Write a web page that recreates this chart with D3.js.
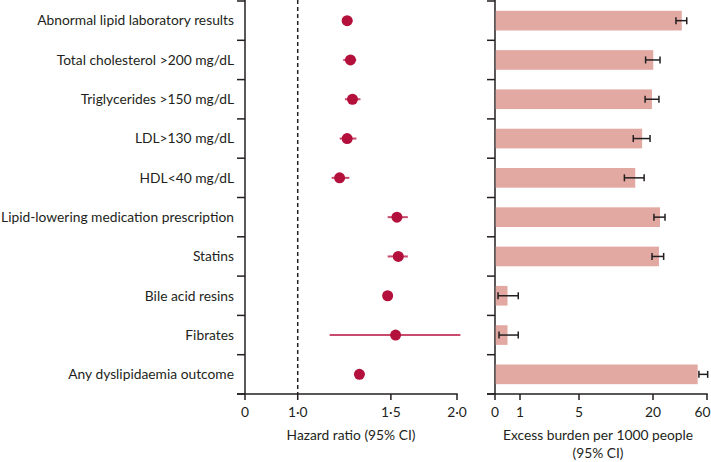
<!DOCTYPE html>
<html>
<head>
<meta charset="utf-8">
<script src="https://cdn.jsdelivr.net/npm/d3@7"></script>
<style>
  html, body { margin: 0; padding: 0; background: #fff; }
  svg text { font-family: Lato, "Open Sans", sans-serif; fill: #231f20; }
</style>
</head>
<body>
<svg id="chart" width="711" height="462"></svg>
<script>
// ---- data ----
const categories = [
  "Abnormal lipid laboratory results",
  "Total cholesterol >200 mg/dL",
  "Triglycerides >150 mg/dL",
  "LDL>130 mg/dL",
  "HDL<40 mg/dL",
  "Lipid-lowering medication prescription",
  "Statins",
  "Bile acid resins",
  "Fibrates",
  "Any dyslipidaemia outcome"
];
const hazardRatio = [1.24, 1.258, 1.269, 1.24, 1.20, 1.54, 1.549, 1.479, 1.531, 1.308];
const hrLower     = [1.214, 1.219, 1.228, 1.20, 1.159, 1.479, 1.479, 1.465, 1.149, 1.295];
const hrUpper     = [1.27, 1.29, 1.314, 1.291, 1.252, 1.615, 1.615, 1.495, 2.03, 1.322];
const burden      = [41.3, 20.2, 19.8, 17.8, 16.4, 25.2, 24.4, 0.5, 0.5, 53.1];
const burdenLower = [37.0, 18.5, 18.4, 16.0, 14.2, 20.7, 19.8, 0.12, 0.16, 54.0];
const burdenUpper = [45.0, 25.2, 24.4, 19.4, 18.2, 28.9, 27.9, 0.93, 0.93, 60.5];
const hrTicks = [0, 1.0, 1.5, 2.0];
const hrTickLabels = ["0", "1·0", "1·5", "2·0"];
const burdenTicks = [0, 1, 5, 20, 60];
const burdenTickLabels = ["0", "1", "5", "20", "60"];

// ---- layout ----
const svg = d3.select("#chart");
const W = 711;
const yTop = 1, yBottom = 394;
const leftX0 = 245, leftX1 = 457;
const rightX0 = 495, rightX1 = 707;
const dotColor = "#b3103c";
const ciColor = "#c84a6c";
const barColor = "#e2a8a2";
const ink = "#231f20";
const fs = 13.8;

const y = d3.scaleBand().domain(categories).range([yTop, yBottom]).padding(0);
const yc = d => y(d) + y.bandwidth() / 2;

// Hazard ratio: log scale with a break at the origin
const hrMin = 0.795;
const xHR = d3.scaleLog().domain([hrMin, 2.0]).range([leftX0, leftX1]);
const xHRpos = v => xHR(v === 0 ? hrMin : v);

// Excess burden: piecewise scale
const xB = d3.scaleLinear().domain(burdenTicks).range([rightX0, 520, 579, 653, rightX1]);

function drawFrame(x0, x1, ticks, labels, pos) {
  const g = svg.append("g");
  g.append("line").attr("x1", x0).attr("x2", x0).attr("y1", yTop - 1).attr("y2", yBottom)
    .attr("stroke", ink).attr("stroke-width", 1.5);
  const bounds = categories.map(c => y(c)).concat([yBottom]);
  g.selectAll(".bt").data(bounds).enter().append("line")
    .attr("x1", x0 - 8).attr("x2", x0).attr("y1", d => d).attr("y2", d => d)
    .attr("stroke", ink).attr("stroke-width", 1.5);
  g.append("line").attr("x1", x0 - 8).attr("x2", x1 + 0.75).attr("y1", yBottom).attr("y2", yBottom)
    .attr("stroke", ink).attr("stroke-width", 1.5);
  g.selectAll(".xt").data(ticks).enter().append("line")
    .attr("x1", d => pos(d)).attr("x2", d => pos(d)).attr("y1", yBottom).attr("y2", yBottom + 6)
    .attr("stroke", ink).attr("stroke-width", 1.5);
  g.selectAll(".xl").data(ticks).enter().append("text")
    .attr("x", d => pos(d)).attr("y", yBottom + 22.5)
    .attr("text-anchor", "middle").attr("font-size", fs)
    .text((d, i) => labels[i])
    .each(function() {
      const w = this.getComputedTextLength();
      const cx = +this.getAttribute("x");
      if (cx + w / 2 > W - 0.5) this.setAttribute("x", W - 0.5 - w / 2);
    });
}

drawFrame(leftX0, leftX1, hrTicks, hrTickLabels, xHRpos);
drawFrame(rightX0, rightX1, burdenTicks, burdenTickLabels, xB);

svg.selectAll(".cat").data(categories).enter().append("text")
  .attr("x", 234).attr("y", d => yc(d)).attr("dy", "0.35em")
  .attr("text-anchor", "end").attr("font-size", fs)
  .text(d => d);

svg.append("line").attr("x1", xHR(1)).attr("x2", xHR(1)).attr("y1", yTop - 1).attr("y2", yBottom)
  .attr("stroke", ink).attr("stroke-width", 1.5).attr("stroke-dasharray", "4,3");

svg.selectAll(".ci").data(categories).enter().append("line")
  .attr("x1", (d, i) => xHR(hrLower[i])).attr("x2", (d, i) => xHR(hrUpper[i]))
  .attr("y1", d => yc(d)).attr("y2", d => yc(d))
  .attr("stroke", ciColor).attr("stroke-width", 2);
svg.selectAll(".dot").data(categories).enter().append("circle")
  .attr("cx", (d, i) => xHR(hazardRatio[i])).attr("cy", d => yc(d)).attr("r", 5.5)
  .attr("fill", dotColor);

const barH = y.bandwidth() * 0.5;
svg.selectAll(".bar").data(categories).enter().append("rect")
  .attr("x", xB(0) + 0.75).attr("y", d => yc(d) - barH / 2)
  .attr("width", (d, i) => xB(burden[i]) - xB(0) - 0.75).attr("height", barH)
  .attr("fill", barColor);

const eb = svg.append("g").attr("stroke", ink).attr("stroke-width", 1.5);
categories.forEach((c, i) => {
  const yy = yc(c), a = xB(burdenLower[i]), b = xB(burdenUpper[i]);
  eb.append("line").attr("x1", a).attr("x2", b).attr("y1", yy).attr("y2", yy);
  eb.append("line").attr("x1", a).attr("x2", a).attr("y1", yy - 3.5).attr("y2", yy + 3.5);
  eb.append("line").attr("x1", b).attr("x2", b).attr("y1", yy - 3.5).attr("y2", yy + 3.5);
});

svg.append("text").attr("x", 351).attr("y", 440).attr("text-anchor", "middle").attr("font-size", fs)
  .text("Hazard ratio (95% CI)");
svg.append("text").attr("x", 598).attr("y", 440).attr("text-anchor", "middle").attr("font-size", fs)
  .text("Excess burden per 1000 people");
svg.append("text").attr("x", 598).attr("y", 458).attr("text-anchor", "middle").attr("font-size", fs)
  .text("(95% CI)");
</script>
</body>
</html>
